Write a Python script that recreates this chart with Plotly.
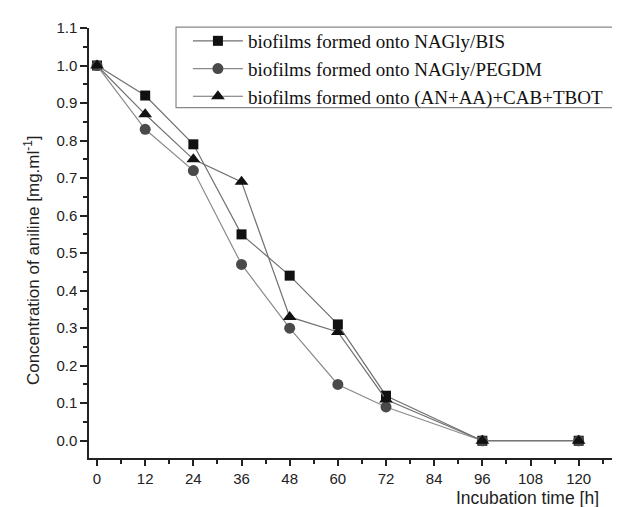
import plotly.graph_objects as go

hours = [0, 12, 24, 36, 48, 60, 72, 96, 120]
bis = [1.0, 0.92, 0.79, 0.55, 0.44, 0.31, 0.12, 0.0, 0.0]
pegdm = [1.0, 0.83, 0.72, 0.47, 0.30, 0.15, 0.09, 0.0, 0.0]
tbot = [1.0, 0.87, 0.75, 0.69, 0.33, 0.29, 0.11, 0.0, 0.0]

names = ["biofilms formed onto NAGly/BIS",
         "biofilms formed onto NAGly/PEGDM",
         "biofilms formed onto (AN+AA)+CAB+TBOT"]

x_ticks = list(range(0, 121, 12))
y_ticks = [round(i * 0.1, 1) for i in range(12)]

fig = go.Figure()
fig.add_trace(go.Scatter(x=hours, y=bis, name=names[0], mode="lines+markers",
                         line=dict(color="#707070", width=1.2),
                         marker=dict(symbol="square", size=10, color="#111111")))
fig.add_trace(go.Scatter(x=hours, y=pegdm, name=names[1], mode="lines+markers",
                         line=dict(color="#8a8a8a", width=1.2),
                         marker=dict(symbol="circle", size=11, color="#4a4a4a")))
fig.add_trace(go.Scatter(x=hours, y=tbot, name=names[2], mode="lines+markers",
                         line=dict(color="#707070", width=1.2),
                         marker=dict(symbol="triangle-up", size=12, color="#111111")))

fig.update_layout(
    width=620, height=507,
    margin=dict(l=81, r=10, t=20, b=57, autoexpand=False),
    plot_bgcolor="white", paper_bgcolor="white",
    font=dict(family="Liberation Sans, Arial", size=15, color="#222"),
    legend=dict(x=0.187, y=1.014, xanchor="left", yanchor="top",
                borderwidth=0, bgcolor="rgba(0,0,0,0)",
                font=dict(family="Liberation Serif, Times New Roman", size=19, color="#111"),
                tracegroupgap=0, itemwidth=50),
    showlegend=True,
)
# legend frame
fig.add_shape(type="rect", xref="paper", yref="paper",
              x0=0.1645, x1=1.0132, y0=0.815, y1=1.002,
              line=dict(color="#888", width=1.2), fillcolor="rgba(0,0,0,0)", layer="above")

fig.update_xaxes(range=[-2.0, 129.8], tickvals=x_ticks, ticktext=[str(v) for v in x_ticks],
                 ticks="outside", ticklen=6, tickwidth=1.5, tickcolor="#222", automargin=False,
                 showline=True, linecolor="#222", linewidth=1.5, showgrid=False, zeroline=False,
                 minor=dict(dtick=6, tick0=0, ticks="outside", ticklen=4, tickwidth=1.5, tickcolor="#222"),
                 tickfont=dict(size=15))
fig.update_yaxes(range=[-0.046, 1.1], tickvals=y_ticks, ticktext=[f"{v:.1f}" for v in y_ticks],
                 ticks="outside", ticklen=7, tickwidth=1.5, tickcolor="#222", automargin=False,
                 showline=True, linecolor="#222", linewidth=1.5, showgrid=False, zeroline=False,
                 minor=dict(dtick=0.05, tick0=0, ticks="outside", ticklen=4, tickwidth=1.5, tickcolor="#222"),
                 tickfont=dict(size=15))
fig.add_annotation(text="Concentration of aniline [mg.ml<sup>-1</sup>]", xref="paper", yref="paper",
                   x=-0.108, y=0.46, xanchor="center", yanchor="middle", textangle=-90,
                   showarrow=False, font=dict(size=17, color="#222"))
fig.add_annotation(text="Incubation time [h]", xref="paper", yref="paper",
                   x=0.968, y=-0.093, xanchor="right", yanchor="middle", showarrow=False,
                   font=dict(size=17.5, color="#222"))

fig.write_html("out.html")
